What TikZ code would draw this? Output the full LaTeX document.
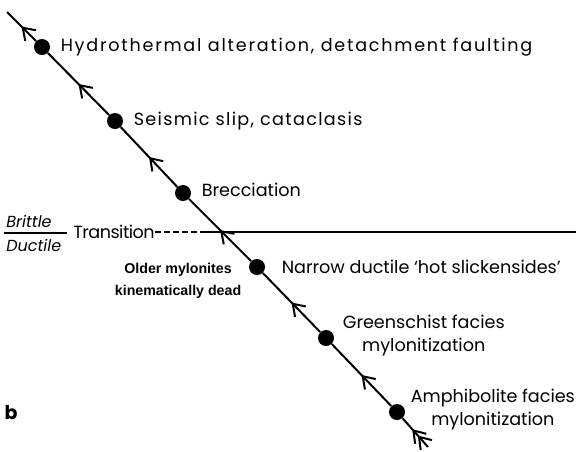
\documentclass[tikz,border=0pt]{standalone}
\usepackage{fontspec}
\setmainfont{Poppins}
\newfontfamily\narrowfont{Liberation Sans}
\usetikzlibrary{positioning,arrows.meta,decorations.markings}
\newcommand{\labelsize}{\fontsize{8.8}{11.5}\selectfont}

\begin{document}
\begin{tikzpicture}[
      x=0.5pt, y=-0.5pt,
      font=\labelsize,
      stage/.style={circle, fill=black, minimum size=8pt, inner sep=0pt},
      lbl/.style={align=center, inner sep=1pt},
      barb/.tip={Straight Barb[length=5.5pt,width=7.5pt,line width=1pt]},
      fault/.style={line width=1pt, postaction={decorate},
                    decoration={markings, mark=at position 0.5 with {\arrow{barb}}}},
      faultend/.style={line width=1pt, postaction={decorate},
                    decoration={markings,
                      mark=at position 0.4 with {\arrow{barb}},
                      mark=at position 0.62 with {\arrow{barb}}}},
      node distance=4pt]
    \useasboundingbox (0,0) rectangle (576,451);
    % stages along the fault
    \coordinate (top) at (7,12);
    \node[stage] (d1) at (42,47) {};
    \node[stage] (d2) at (115,121) {};
    \node[stage] (d3) at (183,193) {};
    \node[stage] (d4) at (257,267) {};
    \node[stage] (d5) at (326,338) {};
    \node[stage] (d6) at (397,412) {};
    \coordinate (bot) at (428,447);

    \node[lbl, right=of d1, font=\labelsize\addfontfeature{LetterSpace=10}] (hyd) {Hydrothermal alteration, detachment faulting};
    \node[lbl, right=of d2, font=\labelsize\addfontfeature{LetterSpace=7.5}] (seis) {Seismic slip, cataclasis};
    \node[lbl, right=of d3, yshift=1.5pt] (brec) {Brecciation};
    \node[lbl, right=7pt of d4] (narr) {Narrow ductile `hot slickensides'};
    \node[lbl, right=3pt of d5, yshift=1pt] (green) {Greenschist facies\\mylonitization};
    \node[lbl, right=1.5pt of d6, yshift=1pt] (amph) {Amphibolite facies\\mylonitization};
    \node[lbl, anchor=north east, font=\narrowfont\bfseries\fontsize{7.1}{11}\selectfont]
      (old) at ([xshift=-2.5pt, yshift=3pt]d4.west) {Older mylonites\\kinematically dead};

    % brittle / ductile transition
    \node[anchor=south west, inner sep=1pt, font=\itshape\fontsize{8}{10}\selectfont] (brit) at (4,230) {Brittle};
    \node[anchor=north west, inner sep=1pt, font=\itshape\fontsize{8}{10}\selectfont] (duct) at (4,237) {Ductile};
    \draw[line width=0.7pt] (4,233) -- (67,233);
    \node[anchor=west, inner sep=1pt, font=\labelsize\addfontfeature{LetterSpace=-3}] (trans) at (71,232) {Transition};
    \coordinate (tr1) at (155,232);
    \coordinate (tr2) at (202,232);
    \coordinate (tr3) at (576,232);
    \draw[line width=0.7pt, dash pattern=on 3pt off 1.5pt] (tr1) -- (tr2);
    \draw[line width=0.7pt] (tr2) -- (tr3);

    % fault trace, movement up to the left
    \draw[fault] (d1) -- (top);
    \draw[fault] (d2) -- (d1);
    \draw[fault] (d3) -- (d2);
    \draw[fault] (d4) -- (d3);
    \draw[fault] (d5) -- (d4);
    \draw[fault] (d6) -- (d5);
    \draw[faultend] (bot) -- (d6);

    \node[font=\bfseries\fontsize{9.5}{12}\selectfont] (b) at (11,413) {b};
  \end{tikzpicture}
\end{document}
